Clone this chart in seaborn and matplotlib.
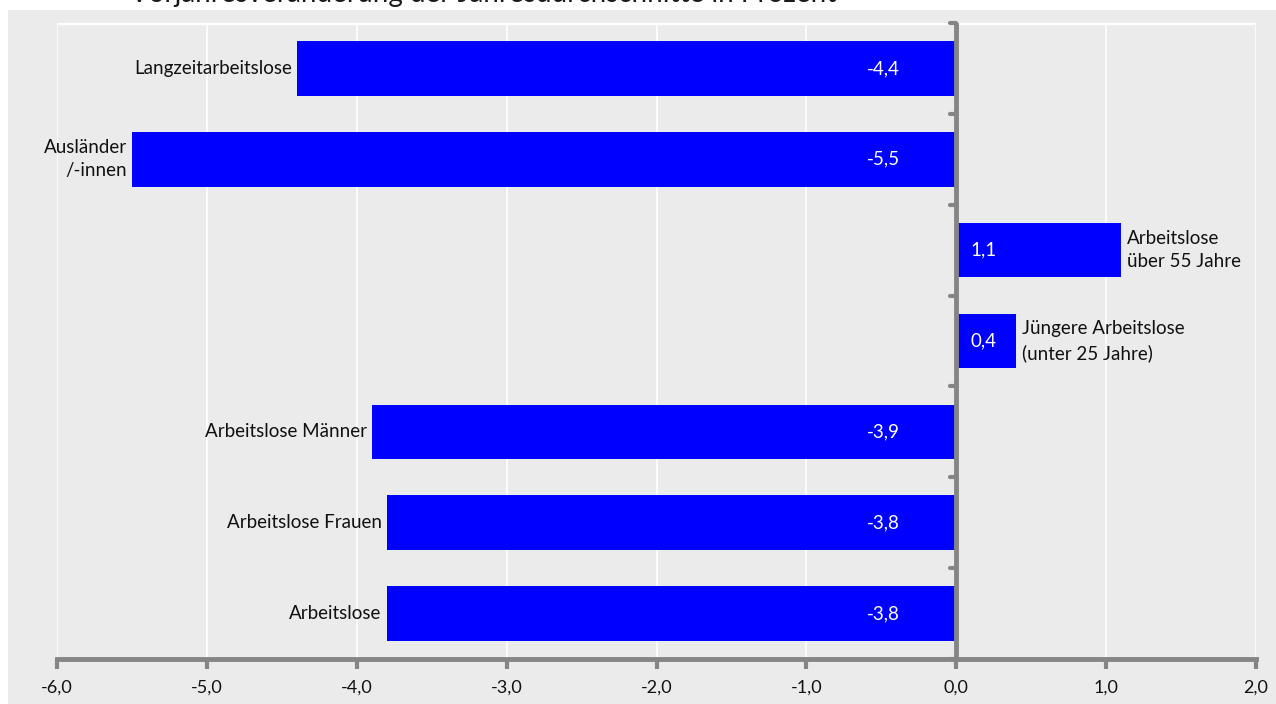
import matplotlib
matplotlib.use("Agg")
import matplotlib.pyplot as plt
import seaborn as sns
import pandas as pd
from matplotlib.patches import Rectangle

categories = ["Langzeitarbeitslose", "Ausländer\n/-innen", "Arbeitslose\nüber 55 Jahre",
              "Jüngere Arbeitslose\n(unter 25 Jahre)", "Arbeitslose Männer",
              "Arbeitslose Frauen", "Arbeitslose"]
values = [-4.4, -5.5, 1.1, 0.4, -3.9, -3.8, -3.8]
xticks = [-6, -5, -4, -3, -2, -1, 0, 1, 2]
title = "Vorjahresveränderung der Jahresdurchschnitte in Prozent"

sns.set_theme(style="white")
plt.rcParams['font.family'] = ['Lato', 'DejaVu Sans']

W, H = 1276, 704
fig = plt.figure(figsize=(W / 100, H / 100), dpi=100)
fig.patch.set_facecolor("white")
bg = "#ebebeb"
axiscol = "#858585"
fig.patches.append(Rectangle((8 / W, 0), 1 - 8 / W, 1 - 10 / H, transform=fig.transFigure,
                             facecolor=bg, edgecolor="none", zorder=-5))
fig.text(130 / W, 1 - 2 / H, title, fontsize=20, color="#1a1a1a", ha="left", va="baseline")

ax = fig.add_axes([57 / W, 1 - 659 / H, (1256 - 57) / W, (659 - 23) / H])
ax.set_zorder(2)
ax.set_facecolor(bg)

df = pd.DataFrame({"cat": categories, "val": values})
sns.barplot(data=df, x="val", y="cat", orient="h", color="#0000ff", width=0.6,
            saturation=1, ax=ax, zorder=3)
for p in ax.patches:
    p.set_edgecolor("none")

ax.set_xlim(-6, 2)
ax.set_ylim(len(categories) - 0.5, -0.5)
ax.set_xticks(xticks)
ax.set_xticklabels([f"{t:.1f}".replace(".", ",") for t in xticks], fontsize=13, color="#111111")
ax.set_yticks([])
ax.set_xlabel("")
ax.set_ylabel("")
for s in ["top", "right", "left"]:
    ax.spines[s].set_visible(False)
ax.spines["bottom"].set_color(axiscol)
ax.spines["bottom"].set_linewidth(3.5)
ax.spines["bottom"].set_zorder(5)
ax.tick_params(axis="x", bottom=True, direction="out", length=7, width=3, color=axiscol, pad=8)

# white grid lines + top border
for t in xticks:
    ax.axvline(t, color="white", lw=1.2, zorder=1)
ax.axhline(-0.5, color="white", lw=2.5, zorder=1)

# vertical zero axis with ticks at category boundaries
ax.axvline(0, color=axiscol, lw=3.5, zorder=4)
for i in range(len(categories) + 1):
    ax.plot([-0.045, 0], [i - 0.5, i - 0.5], color=axiscol, lw=3, zorder=4,
            solid_capstyle="round", clip_on=False)

fs = 13.5
for i, (c, v) in enumerate(zip(categories, values)):
    if v < 0:
        ax.annotate(c, (v, i), xytext=(-5, 0), textcoords="offset pixels", ha="right",
                    va="center", fontsize=fs, color="#111111", multialignment="right",
                    linespacing=1.45)
        ax.annotate(f"{v:.1f}".replace(".", ","), (0, i), xytext=(-56, 0),
                    textcoords="offset pixels", ha="right", va="center",
                    fontsize=fs, color="white", zorder=6)
    else:
        ax.annotate(c, (v, i), xytext=(6, 0), textcoords="offset pixels", ha="left",
                    va="center", fontsize=fs, color="#111111", multialignment="left",
                    linespacing=1.45)
        ax.annotate(f"{v:.1f}".replace(".", ","), (0, i), xytext=(14, 0),
                    textcoords="offset pixels", ha="left", va="center",
                    fontsize=fs, color="white", zorder=6)

fig.savefig("out.png", dpi=100)
